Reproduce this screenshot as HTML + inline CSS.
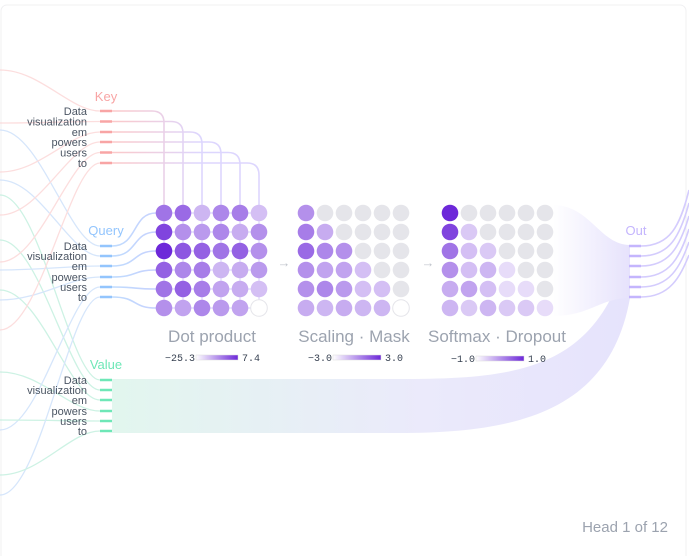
<!DOCTYPE html>
<html><head><meta charset="utf-8"><style>
html,body{margin:0;padding:0;background:#fff;width:689px;height:556px;overflow:hidden}
svg{display:block;font-family:"Liberation Sans",sans-serif}
.lb{font-size:11px;fill:#4b5563;text-anchor:end}
.t{font-size:17px;fill:#9ca3af;text-anchor:middle}
.lg{font-size:10px;fill:#374151;font-family:"Liberation Mono",monospace}
</style></head><body>
<svg id="s" width="689" height="556" viewBox="0 0 689 556">
<defs>
<linearGradient id="kg" gradientUnits="userSpaceOnUse" x1="112" y1="0" x2="200" y2="0"><stop offset="0" stop-color="#fcc9c9"/><stop offset="1" stop-color="#ddd6fe"/></linearGradient>
<linearGradient id="qg" gradientUnits="userSpaceOnUse" x1="112" y1="0" x2="156" y2="0"><stop offset="0" stop-color="#bfdbfe"/><stop offset="1" stop-color="#c7d2fe"/></linearGradient>
<linearGradient id="vb" gradientUnits="userSpaceOnUse" x1="112" y1="0" x2="630" y2="0"><stop offset="0" stop-color="#e2f6ee"/><stop offset="0.6" stop-color="#ebeafb"/><stop offset="1" stop-color="#e6e3fc"/></linearGradient>
<linearGradient id="fg" gradientUnits="userSpaceOnUse" x1="553" y1="0" x2="630" y2="0"><stop offset="0" stop-color="#fff"/><stop offset="1" stop-color="#e6e2fc"/></linearGradient>
<linearGradient id="lgd" x1="0" x2="1"><stop offset="0" stop-color="#fff"/><stop offset="1" stop-color="#6d28d9"/></linearGradient>
</defs>
<rect x="1" y="5" width="685" height="560" rx="6" fill="#fff" stroke="#f0f0f2"/>
<g id="left" fill="none" stroke-width="1.3" opacity="0.75"></g>
<path d="M112,379 H400 C520,379 600,370 630,245 V298 C610,410 520,433 400,433 H112 Z" fill="url(#vb)"/>
<path d="M553,205 C590,205 600,245 630,245 V298 C600,298 590,316 553,316 Z" fill="url(#fg)"/>
<g id="conn" fill="none" stroke-width="1.6"></g>
<g id="dots"></g>
<text x="106" y="101" font-size="13" fill="#f8a5a5" text-anchor="middle">Key</text>
<text x="106" y="235" font-size="13" fill="#93c5fd" text-anchor="middle">Query</text>
<text x="106" y="369" font-size="13" fill="#6ee7b7" text-anchor="middle">Value</text>
<text x="636" y="235" font-size="13" fill="#c4b5fd" text-anchor="middle">Out</text>
<g id="labels"></g>
<text x="284" y="267" font-size="13" fill="#c0c4cc" text-anchor="middle">→</text>
<text x="428" y="267" font-size="13" fill="#c0c4cc" text-anchor="middle">→</text>
<text class="t" x="212" y="342">Dot product</text>
<text class="t" x="354" y="342">Scaling · Mask</text>
<text class="t" x="497" y="342">Softmax · Dropout</text>
<text class="lg" x="165" y="361">−25.3</text><rect x="196" y="355" width="42" height="5" fill="url(#lgd)" stroke="#ddd" stroke-width=".5"/><text class="lg" x="242" y="361">7.4</text>
<text class="lg" x="308" y="361">−3.0</text><rect x="333" y="355" width="48" height="5" fill="url(#lgd)" stroke="#ddd" stroke-width=".5"/><text class="lg" x="385" y="361">3.0</text>
<text class="lg" x="451" y="362">−1.0</text><rect x="476" y="356" width="48" height="5" fill="url(#lgd)" stroke="#ddd" stroke-width=".5"/><text class="lg" x="528" y="362">1.0</text>
<text x="668" y="532" font-size="15" fill="#9ca3af" text-anchor="end">Head 1 of 12</text>
</svg>
<script>
const NS="http://www.w3.org/2000/svg";
function el(p,t,a){const e=document.createElementNS(NS,t);for(const k in a)e.setAttribute(k,a[k]);document.getElementById(p).appendChild(e);return e;}
const words=["Data","visualization","em","powers","users","to"];
const ky=[111,121.5,132,142,152.5,163],qy=[246,256,266,277,287,297],vy=[380,390,400,411,421,431];
const cx=[164,183,202,221,240,259],ry=[213,232,251,270,289,308];
const kl=[70,123,172,215,262,330],ql=[130,180,270,300,430,495],vl=[195,240,290,372,420,475];
for(let i=0;i<6;i++){
 el("left","path",{d:`M0,${kl[i]} C40,${kl[i]} 70,${ky[i]} 100,${ky[i]}`,stroke:"#fcd3d3"});
 el("left","path",{d:`M0,${ql[i]} C40,${ql[i]} 70,${qy[i]} 100,${qy[i]}`,stroke:"#c9defa"});
 el("left","path",{d:`M0,${vl[i]} C40,${vl[i]} 70,${vy[i]} 100,${vy[i]}`,stroke:"#bdeedb"});
}
for(let i=0;i<6;i++){
 const x=cx[i],y=ky[i];
 el("conn","path",{d:`M112,${y} H${x-12} Q${x},${y} ${x},${y+12} V205`,stroke:"url(#kg)"});
 el("conn","path",{d:`M112,${qy[i]} C138,${qy[i]} 132,${ry[i]} 156,${ry[i]}`,stroke:"url(#qg)"});
 el("conn","path",{d:`M641,${qy[i]} C670,${qy[i]} 680,${qy[i]-20} 689,${190+i*13}`,stroke:"#d4ccfd"});
 el("conn","line",{x1:100,y1:ky[i],x2:112,y2:ky[i],stroke:"#f8a5a5","stroke-width":2.5});
 el("conn","line",{x1:100,y1:qy[i],x2:112,y2:qy[i],stroke:"#93c5fd","stroke-width":2.5});
 el("conn","line",{x1:100,y1:vy[i],x2:112,y2:vy[i],stroke:"#6ee7b7","stroke-width":2.5});
 el("conn","line",{x1:629,y1:qy[i],x2:641,y2:qy[i],stroke:"#c4b5fd","stroke-width":2.5});
 el("conn","line",{x1:cx[0],y1:ry[i],x2:cx[5],y2:ry[i],stroke:"#ddd6fe","stroke-width":1.2});
 el("conn","line",{x1:cx[i],y1:ry[0],x2:cx[i],y2:ry[5],stroke:"#ddd6fe","stroke-width":1.2});
 [ky,qy,vy].forEach(a=>{const t=el("labels","text",{class:"lb",x:87,y:a[i]+4});t.textContent=words[i];});
}
const D=[[.6,.65,.25,.5,.55,.2],[.85,.45,.4,.5,.3,.45],[1,.75,.7,.6,.7,.45],[.7,.5,.55,.25,.3,.4],[.6,.7,.55,.35,.3,.2],[.45,.35,.5,.4,.35,0]];
const S=[[.45],[.55,.3],[.65,.5,.45],[.45,.35,.35,.2],[.45,.5,.4,.2,.2],[.3,.25,.3,.25,.25,0]];
const F=[[1],[.85,.15],[.6,.2,.15],[.45,.2,.25,.05],[.3,.35,.2,.05,.05],[.25,.15,.25,.15,.15,.05]];
function col(v){const a=[255,255,255],b=[109,40,217];v=0.12+v*0.88;return `rgb(${a.map((c,i)=>Math.round(c+(b[i]-c)*v)).join(",")})`;}
function grid(M,x0,tri){
 for(let r=0;r<6;r++)for(let c=0;c<6;c++){
  const x=x0+c*19,y=ry[r];let f,st="none";
  if(tri&&c>r)f="#e5e5ea";else{const v=M[r][c];if(v===0){f="#fff";st="#e5e5ea";}else f=col(v);}
  el("dots","circle",{cx:x,cy:y,r:8.3,fill:f,stroke:st});
 }
}
grid(D,164,false);grid(S,306,true);grid(F,450,true);
</script>
</body></html>
